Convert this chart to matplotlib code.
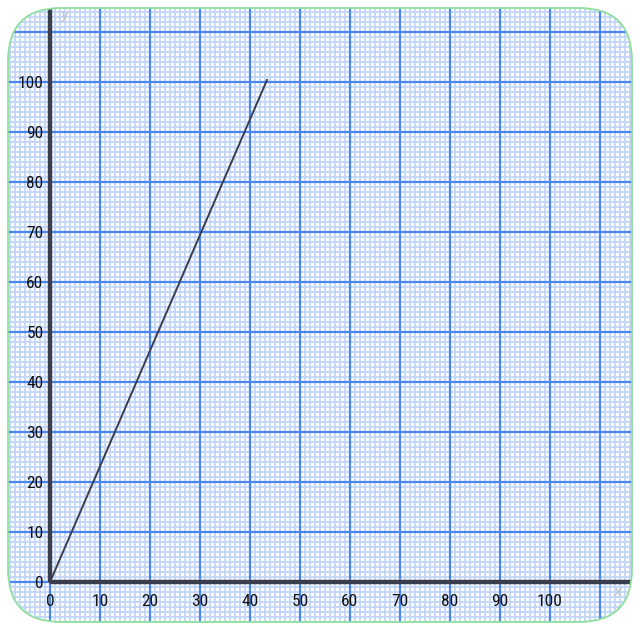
import numpy as np
import matplotlib.pyplot as plt
from matplotlib.patches import FancyBboxPatch

# data
line_x = [0, 43.4]
line_y = [0, 100.4]
x_ticks = [0, 10, 20, 30, 40, 50, 60, 70, 80, 90, 100]
y_ticks = [0, 10, 20, 30, 40, 50, 60, 70, 80, 90, 100]

axis_col = '#3a3d4d'
major_col = '#4a86f0'
minor_col = '#c2d6f7'

fig = plt.figure(figsize=(6.4, 6.29), dpi=100)
ax = fig.add_axes([0, 0, 1, 1])
ax.set_xlim(-10, 118)
ax.set_ylim(-9.4, 116.4)
ax.axis('off')

# rounded paper outline (5 px per unit)
x0, x1, y0, y1 = -8.4, 116.4, -8.0, 114.8
rstyle = 'round,pad=0,rounding_size=10.6'
paper = FancyBboxPatch((x0, y0), x1 - x0, y1 - y0, boxstyle=rstyle,
                       fc='white', ec='none', zorder=0)
ax.add_patch(paper)

minor = np.arange(-9, 118)
major = np.arange(-10, 120, 10)
vmin = ax.vlines(minor, y0, y1, colors=minor_col, lw=1.3, zorder=1)
hmin = ax.hlines(minor, x0, x1, colors=minor_col, lw=1.3, zorder=1)
vmaj = ax.vlines(major, y0, y1, colors=major_col, lw=1.6, zorder=2)
hmaj = ax.hlines(major, x0, x1, colors=major_col, lw=1.6, zorder=2)
for c in (vmin, hmin, vmaj, hmaj):
    c.set_clip_path(paper)

# axes
va = ax.plot([0, 0], [0, y1], color=axis_col, lw=3.2, solid_capstyle='butt', zorder=4)[0]
ha = ax.plot([0, x1], [0, 0], color=axis_col, lw=3.2, solid_capstyle='butt', zorder=4)[0]
va.set_clip_path(paper)
ha.set_clip_path(paper)

ax.plot(line_x, line_y, color=axis_col, lw=1.4, zorder=5)

font = ['Roboto Condensed', 'PT Sans Narrow', 'DejaVu Sans']
for v in x_ticks:
    ax.text(v, -3.9, str(v), ha='center', va='center',
            fontsize=12.5, family=font, color='#111111', zorder=6)
for v in y_ticks:
    ax.text(-1.3, v - 0.4, str(v), ha='right', va='center',
            fontsize=12.5, family=font, color='#111111', zorder=6)

ax.text(2.0, 112.6, 'y', style='italic', fontsize=10, color='#c0c0c0', zorder=6)
ax.text(112.6, -2.8, 'x', style='italic', fontsize=10, color='#c0c0c0', zorder=6)

border = FancyBboxPatch((x0, y0), x1 - x0, y1 - y0, boxstyle=rstyle,
                        fc='none', ec='#8fe09c', lw=1.3, zorder=7)
ax.add_patch(border)

fig.savefig('out.png', dpi=100, facecolor='white')
